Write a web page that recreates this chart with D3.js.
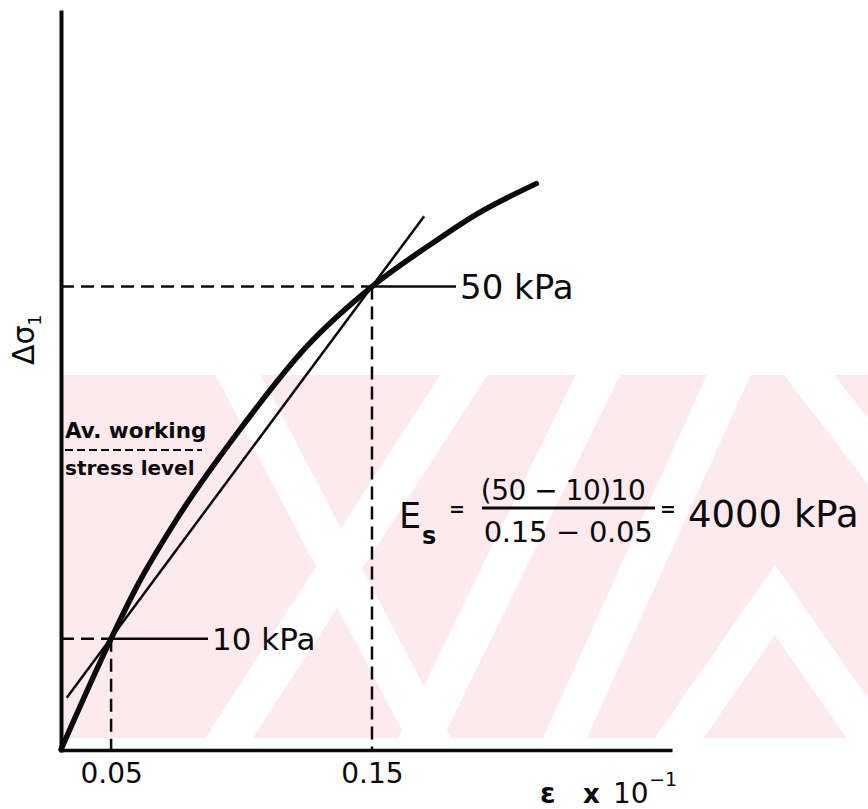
<!DOCTYPE html>
<html>
<head>
<meta charset="utf-8">
<script src="https://cdn.jsdelivr.net/npm/d3@7"></script>
<style>
  body { margin: 0; background: #fff; }
  svg { display: block; }
</style>
</head>
<body>
<div id="chart"></div>
<script>
// stress-strain curve (strain x 10^-1, stress change in kPa)
var strain = [0.0308, 0.05, 0.06, 0.075, 0.1, 0.125, 0.15, 0.175, 0.19, 0.213]
var stress = [-2.6, 10, 16, 23.5, 34, 43.2, 50, 55.3, 58.2, 61.7]

// secant drawn through the two working points, ends as drawn
var secantStrain = [0.033, 0.17]
var secantStress = [3.3, 58]

// the two reference points
var refStrain = [0.05, 0.15]
var refStress = [10, 50]
var refLabels = ["10 kPa", "50 kPa"]
var tickLabels = ["0.05", "0.15"]

var width = 868
    height = 809
    ink = "#0a0a0a"

var svg = d3.select("#chart")
            .append("svg")
            .attr("width", width)
            .attr("height", height)

var x = d3.scaleLinear()
          .domain([0.0308, 0.265])
          .range([61, 672])

var y = d3.scaleLinear()
          .domain([-2.65, 81.2])
          .range([750, 12])

// watermark in the background of the scan
var wm = svg.append("g")
wm.append("clipPath").attr("id", "wmclip")
  .append("rect").attr("x", 62).attr("y", 375).attr("width", 806).attr("height", 363)
var wmg = wm.append("g").attr("clip-path", "url(#wmclip)")
wmg.append("rect")
   .attr("x", 62).attr("y", 375).attr("width", 806).attr("height", 363)
   .attr("fill", "#fdeaee")
var bands = [
    [[225, 350], [440, 760]],
    [[480, 350], [215, 760]],
    [[610, 350], [410, 760]],
    [[740, 350], [555, 760]],
    [[790, 350], [890, 480]]
]
bands.forEach(function(b) {
    wmg.append("line")
       .attr("x1", b[0][0]).attr("y1", b[0][1])
       .attr("x2", b[1][0]).attr("y2", b[1][1])
       .attr("stroke", "#fff")
       .attr("stroke-width", 40)
})
wmg.append("polyline")
   .attr("points", "650,780 775,600 900,780")
   .attr("fill", "none")
   .attr("stroke", "#fff")
   .attr("stroke-width", 40)

// dashed guides to the axes
var guides = svg.append("g")
                .attr("stroke", ink)
                .attr("stroke-width", 2.5)
                .attr("stroke-dasharray", "13,7")
                .attr("fill", "none")
refStrain.forEach(function(e, i) {
    guides.append("line")
          .attr("x1", x.range()[0]).attr("y1", y(refStress[i]))
          .attr("x2", x(e)).attr("y2", y(refStress[i]))
    guides.append("line")
          .attr("x1", x(e)).attr("y1", y(refStress[i]))
          .attr("x2", x(e)).attr("y2", y.range()[0])
})

// solid leaders and labels
var labelX = [212, 460]
refStrain.forEach(function(e, i) {
    svg.append("line")
       .attr("x1", x(e)).attr("y1", y(refStress[i]))
       .attr("x2", labelX[i] - 4).attr("y2", y(refStress[i]))
       .attr("stroke", ink)
       .attr("stroke-width", 2.5)
    svg.append("text")
       .attr("x", labelX[i])
       .attr("y", y(refStress[i]))
       .attr("dy", "0.36em")
       .attr("font-family", "DejaVu Sans")
       .attr("font-size", i == 0 ? "31px" : "34px")
       .attr("fill", ink)
       .text(refLabels[i])
})

// secant
svg.append("line")
   .attr("x1", x(secantStrain[0])).attr("y1", y(secantStress[0]))
   .attr("x2", x(secantStrain[1])).attr("y2", y(secantStress[1]))
   .attr("stroke", ink)
   .attr("stroke-width", 2.5)

// the curve
var line = d3.line()
             .x(function(d) { return x(d[0]) })
             .y(function(d) { return y(d[1]) })
             .curve(d3.curveMonotoneX)

svg.append("path")
   .datum(strain.map(function(e, i) { return [e, stress[i]] }))
   .attr("d", line)
   .attr("fill", "none")
   .attr("stroke", ink)
   .attr("stroke-width", 5.5)
   .attr("stroke-linecap", "round")

// axes
var xAxis = svg.append("g")
               .attr("transform", "translate(0," + y.range()[0] + ")")
               .call(d3.axisBottom(x)
                       .tickValues(refStrain)
                       .tickFormat(function(d, i) { return tickLabels[i] })
                       .tickSize(0)
                       .tickPadding(13)
                       .tickSizeOuter(0))
xAxis.select(".domain").attr("stroke", ink).attr("stroke-width", 3.5)
xAxis.selectAll("text")
     .attr("font-family", "DejaVu Sans")
     .attr("font-size", "28px")
     .attr("fill", ink)

var yAxis = svg.append("g")
               .attr("transform", "translate(" + x.range()[0] + ",0)")
               .call(d3.axisLeft(y).tickValues([]).tickSizeOuter(0))
yAxis.select(".domain").attr("stroke", ink).attr("stroke-width", 4)
     .attr("stroke-linecap", "square")

// axis titles
var yt = svg.append("text")
            .attr("transform", "translate(34,365) rotate(-90)")
            .attr("font-family", "DejaVu Sans")
            .attr("font-size", "30px")
            .attr("fill", ink)
yt.append("tspan").text("Δσ")
yt.append("tspan").attr("dy", 7).attr("font-size", "17px").text("1")

var xt = svg.append("g")
            .attr("font-family", "DejaVu Sans")
            .attr("fill", ink)
xt.append("text").attr("x", 540).attr("y", 803).attr("font-size", "28px")
  .attr("font-weight", "bold").text("ε")
xt.append("text").attr("x", 583).attr("y", 803).attr("font-size", "26px")
  .attr("font-weight", "bold").text("x")
xt.append("text").attr("x", 613).attr("y", 803).attr("font-size", "28px").text("10")
xt.append("text").attr("x", 649).attr("y", 786).attr("font-size", "19px").text("−1")

// working stress note
var note = svg.append("g")
              .attr("font-family", "DejaVu Sans")
              .attr("font-weight", "bold")
              .attr("fill", ink)
note.append("text").attr("x", 65).attr("y", 438).attr("font-size", "21.5px").text("Av. working")
note.append("line")
    .attr("x1", 65).attr("y1", 450).attr("x2", 202).attr("y2", 450)
    .attr("stroke", ink).attr("stroke-width", 2).attr("stroke-dasharray", "8,4")
note.append("text").attr("x", 65).attr("y", 475).attr("font-size", "20px").text("stress level")

// secant modulus
var f = svg.append("g")
           .attr("font-family", "DejaVu Sans")
           .attr("fill", ink)
f.append("text").attr("x", 399).attr("y", 528).attr("font-size", "35px").text("E")
f.append("text").attr("x", 422).attr("y", 544).attr("font-size", "24px")
 .attr("font-weight", "bold").text("s")
f.append("text").attr("x", 449).attr("y", 516).attr("font-size", "19px")
 .attr("font-weight", "bold").text("=")
f.append("text").attr("x", 563).attr("y", 500).attr("text-anchor", "middle")
 .attr("font-size", "28px").attr("letter-spacing", "-0.5px").text("(50 − 10)10")
f.append("line").attr("x1", 482).attr("y1", 508).attr("x2", 655).attr("y2", 508)
 .attr("stroke", ink).attr("stroke-width", 3)
f.append("text").attr("x", 568).attr("y", 542).attr("text-anchor", "middle")
 .attr("font-size", "29px").attr("letter-spacing", "-0.3px").text("0.15 − 0.05")
f.append("text").attr("x", 660).attr("y", 516).attr("font-size", "19px")
 .attr("font-weight", "bold").text("=")
f.append("text").attr("x", 688).attr("y", 527).attr("font-size", "37px").text("4000 kPa")
</script>
</body>
</html>
